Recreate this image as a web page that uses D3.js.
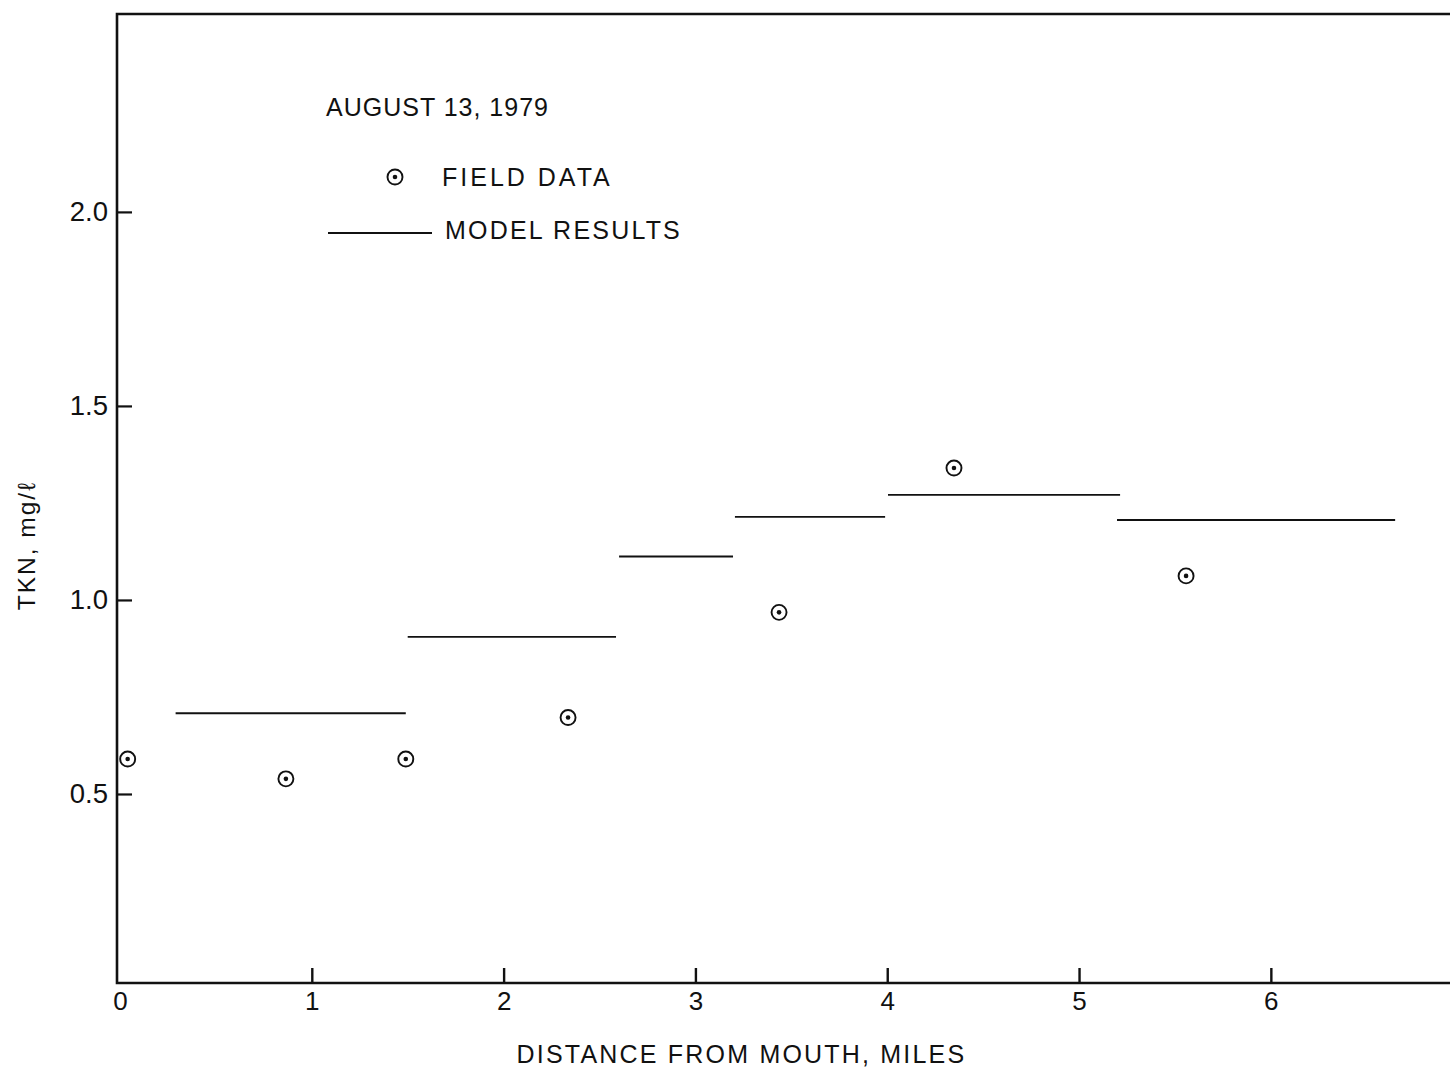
<!DOCTYPE html>
<html>
<head>
<meta charset="utf-8">
<script src="https://cdn.jsdelivr.net/npm/d3@7"></script>
<style>
  html, body { margin: 0; padding: 0; background: #fff; }
  svg { display: block; }
  text { font-family: "Liberation Sans", Arial, Helvetica, sans-serif; fill: #111; }
</style>
</head>
<body>
<svg id="chart" width="1450" height="1073"></svg>
<script>
// ---- data ----
const fieldDist = [0.04, 0.865, 1.49, 2.336, 3.436, 4.348, 5.558];
const fieldTKN  = [0.59, 0.539, 0.59, 0.697, 0.968, 1.340, 1.062];

const modelStart = [0.29, 1.50, 2.602, 3.206, 4.004, 5.198];
const modelEnd   = [1.49, 2.586, 3.196, 3.989, 5.214, 6.648];
const modelTKN   = [0.708, 0.905, 1.112, 1.214, 1.271, 1.206];

const xTicks = [0, 1, 2, 3, 4, 5, 6];
const yTicks = [0.5, 1.0, 1.5, 2.0];

const titleText = "AUGUST 13, 1979";
const legendField = "FIELD DATA";
const legendModel = "MODEL RESULTS";
const xTitle = "DISTANCE FROM MOUTH, MILES";
const yTitle = "TKN, mg/\u2113";

// ---- layout ----
const plotL = 117, plotR = 1450, plotT = 14, plotB = 983;
const svg = d3.select("#chart");

const x = d3.scaleLinear().domain([-0.0156, 6.934]).range([plotL, plotR]);
const y = d3.scaleLinear().domain([0.0129, 2.51]).range([plotB, plotT]);

const ink = "#111";

// frame: left axis, top border, bottom axis
svg.append("path")
  .attr("d", `M${plotR},${plotT} L${plotL},${plotT} L${plotL},${plotB} L${plotR},${plotB}`)
  .attr("fill", "none").attr("stroke", ink).attr("stroke-width", 2.6);

// y axis
const yAxis = d3.axisLeft(y).tickValues(yTicks).tickFormat(d3.format(".1f"))
  .tickSizeInner(-15).tickSizeOuter(0).tickPadding(9);
const gy = svg.append("g").attr("transform", `translate(${plotL},0)`).call(yAxis);
gy.select(".domain").remove();
gy.selectAll(".tick line").attr("stroke", ink).attr("stroke-width", 2.2);
gy.selectAll(".tick text").attr("font-size", 27.5).attr("fill", ink)
  .style("font-family", "'Liberation Sans', Arial, sans-serif");

// x axis
const xAxis = d3.axisBottom(x).tickValues(xTicks).tickFormat(d3.format("d"))
  .tickSizeInner(-15).tickSizeOuter(0).tickPadding(9);
const gx = svg.append("g").attr("transform", `translate(0,${plotB})`).call(xAxis);
gx.select(".domain").remove();
gx.selectAll(".tick line").attr("stroke", ink).attr("stroke-width", 2.4)
  .attr("opacity", d => d === 0 ? 0 : 1);
gx.selectAll(".tick text").attr("font-size", 26).attr("fill", ink)
  .style("font-family", "'Liberation Sans', Arial, sans-serif");

// axis titles
svg.append("text")
  .attr("x", x(3.24)).attr("y", 1063)
  .attr("text-anchor", "middle").attr("font-size", 25)
  .attr("letter-spacing", 2.2)
  .text(xTitle);

svg.append("text")
  .attr("transform", `translate(35,${y(1.14)}) rotate(-90)`)
  .attr("text-anchor", "middle").attr("font-size", 24.5)
  .attr("letter-spacing", 2)
  .text(yTitle);

// model results: horizontal segments
svg.append("g").selectAll("line")
  .data(modelTKN.map((v, i) => ({ s: modelStart[i], e: modelEnd[i], v })))
  .join("line")
  .attr("x1", d => x(d.s)).attr("x2", d => x(d.e))
  .attr("y1", d => y(d.v)).attr("y2", d => y(d.v))
  .attr("stroke", ink).attr("stroke-width", 1.8);

// field data: circled dots
const pts = svg.append("g").selectAll("g")
  .data(fieldTKN.map((v, i) => ({ d: fieldDist[i], v })))
  .join("g")
  .attr("transform", d => `translate(${x(d.d)},${y(d.v)})`);
pts.append("circle").attr("r", 7.5).attr("fill", "none").attr("stroke", ink).attr("stroke-width", 1.9);
pts.append("circle").attr("r", 2.3).attr("fill", ink);

// legend / annotation
svg.append("text").attr("x", 326).attr("y", 116).attr("font-size", 25)
  .attr("letter-spacing", 1.0).text(titleText);

const lg = svg.append("g").attr("transform", "translate(395,177)");
lg.append("circle").attr("r", 7.5).attr("fill", "none").attr("stroke", ink).attr("stroke-width", 1.9);
lg.append("circle").attr("r", 2.3).attr("fill", ink);
svg.append("text").attr("x", 442).attr("y", 186).attr("font-size", 25)
  .attr("letter-spacing", 3).text(legendField);

svg.append("line").attr("x1", 328).attr("x2", 432).attr("y1", 233).attr("y2", 233)
  .attr("stroke", ink).attr("stroke-width", 1.8);
svg.append("text").attr("x", 445).attr("y", 239).attr("font-size", 25)
  .attr("letter-spacing", 2.2).text(legendModel);
</script>
</body>
</html>
